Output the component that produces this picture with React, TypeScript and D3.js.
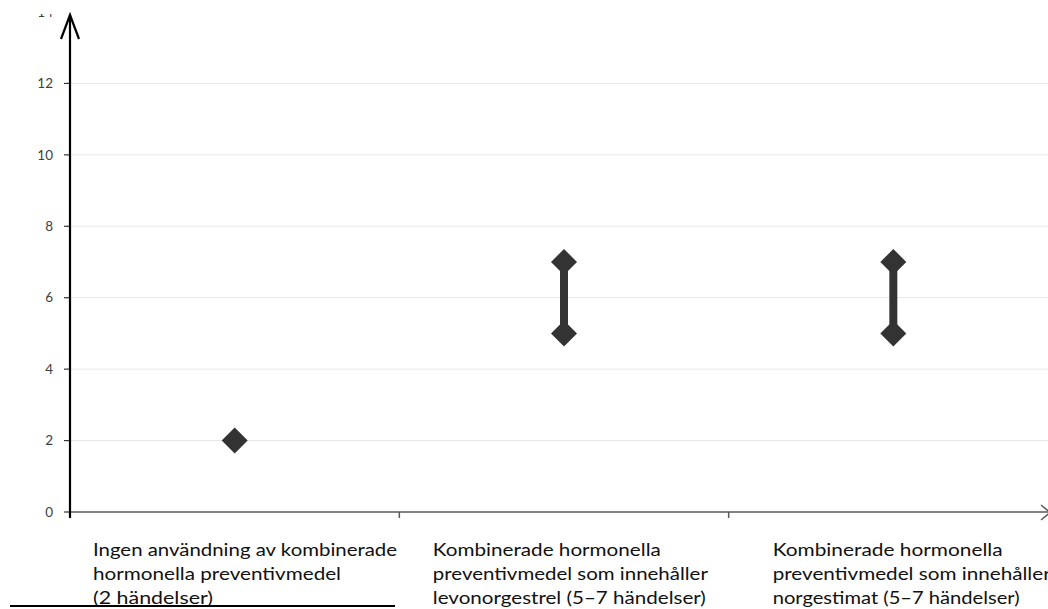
import React from "react";
import * as d3 from "d3";

const categories = ["ingen", "levonorgestrel", "norgestimat"];
const lowValues = [2, 5, 5];
const highValues = [2, 7, 7];
const labelLines = [
  ["Ingen användning av kombinerade", "hormonella preventivmedel", "(2 händelser)"],
  ["Kombinerade hormonella", "preventivmedel som innehåller", "levonorgestrel (5–7 händelser)"],
  ["Kombinerade hormonella", "preventivmedel som innehåller", "norgestimat (5–7 händelser)"],
];
const labelWidths = [
  [304, 248, 120],
  [228, 275, 273],
  [230, 278, 247],
];
const yTicks = [0, 2, 4, 6, 8, 10, 12, 14];

const W = 1048;
const H = 609;

export default function App() {
  const x = d3.scaleBand<string>().domain(categories).range([70, 1058]).padding(0);
  const y = d3.scaleLinear().domain([0, 14]).range([512, 12]);
  const half = 13;
  const labelOffset = (i: number) => 23 + i * 10.5;
  const diamond = (cx: number, cy: number) =>
    `M${cx},${cy - half}L${cx + half},${cy}L${cx},${cy + half}L${cx - half},${cy}Z`;
  const font = "Lato, 'Open Sans', sans-serif";

  return (
    <svg
      width={W}
      height={H}
      style={{ position: "fixed", left: 0, top: 0, background: "#fff" }}
      fontFamily={font}
    >
      {/* gridlines */}
      {yTicks.filter((t) => t > 0).map((t) => (
        <line key={"g" + t} x1={70} x2={1048} y1={y(t)} y2={y(t)} stroke="#e8e8e8" strokeWidth={1} />
      ))}
      {/* y tick marks and labels */}
      {yTicks.map((t) => (
        <g key={"t" + t}>
          <line x1={64} x2={70} y1={y(t)} y2={y(t)} stroke="#333" strokeWidth={1.2} />
          <text x={53} y={y(t)} dy="0.35em" textAnchor="end" fontSize={13.5} fill="#404040">
            {t}
          </text>
        </g>
      ))}
      {/* cover top area (chart cropped) */}
      <rect x={0} y={0} width={W} height={14} fill="#fff" />
      {/* x axis */}
      <line x1={70} x2={1050} y1={y(0)} y2={y(0)} stroke="#595959" strokeWidth={1.5} />
      <path d="M1041,505L1050,512.5L1041,520" fill="none" stroke="#595959" strokeWidth={1.5} />
      {categories.map((c, i) => (
        <line key={"xt" + i} x1={x(c)!} x2={x(c)!} y1={y(0)} y2={y(0) + 6} stroke="#595959" strokeWidth={1.5} />
      ))}
      {/* y axis */}
      <line x1={70} x2={70} y1={518} y2={15} stroke="#000" strokeWidth={2.2} />
      <path d="M61,39L70,15L79,39" fill="none" stroke="#000" strokeWidth={2.2} />
      {/* ranges */}
      {categories.map((c, i) => {
        const cx = x(c)! + x.bandwidth() / 2;
        return (
          <g key={"m" + i}>
            {highValues[i] !== lowValues[i] && (
              <line x1={cx} x2={cx} y1={y(highValues[i])} y2={y(lowValues[i])} stroke="#333" strokeWidth={8} />
            )}
            <path d={diamond(cx, y(lowValues[i]))} fill="#333" />
            {highValues[i] !== lowValues[i] && <path d={diamond(cx, y(highValues[i]))} fill="#333" />}
          </g>
        );
      })}
      {/* category labels */}
      {categories.map((c, i) => (
        <g key={"l" + i}>
          {labelLines[i].map((line, j) => (
            <text
              key={j}
              x={x(c)! + labelOffset(i)}
              y={550 + j * 24}
              dy="0.35em"
              fontSize={16.5}
              fill="#111"
              textLength={labelWidths[i][j]}
              lengthAdjust="spacingAndGlyphs"
            >
              {line}
            </text>
          ))}
        </g>
      ))}
      {/* bottom line */}
      <line x1={10} x2={395} y1={606} y2={606} stroke="#000" strokeWidth={2} />
    </svg>
  );
}
